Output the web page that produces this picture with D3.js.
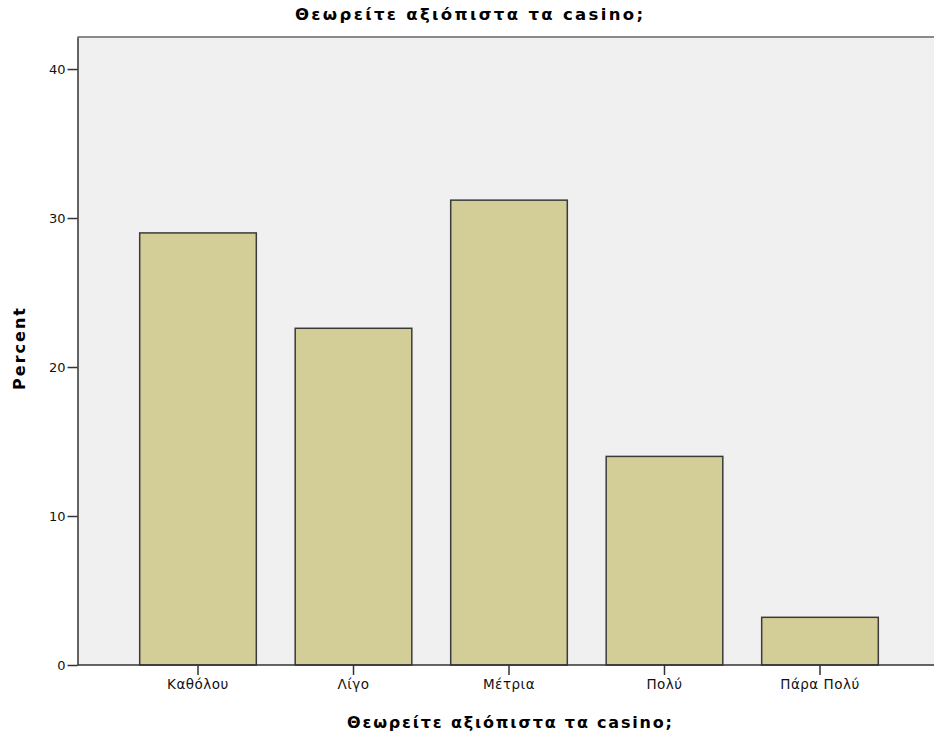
<!DOCTYPE html>
<html><head><meta charset="utf-8">
<script src="https://cdn.jsdelivr.net/npm/d3@7"></script>
<style>body{margin:0;background:#fff}svg{display:block}</style>
</head><body>
<script>
const categories = ["Καθόλου", "Λίγο", "Μέτρια", "Πολύ", "Πάρα Πολύ"];
const percents = [29.0, 22.6, 31.2, 14.0, 3.2];
const yTicks = [0, 10, 20, 30, 40];
const titleText = "Θεωρείτε αξιόπιστα τα casino;";
const xLabelText = "Θεωρείτε αξιόπιστα τα casino;";
const yLabelText = "Percent";

(function () {
const W = 934, H = 740;
const mLeft = 77.5, mTop = 37, mBottom = 665, rightEnd = 940.5;
const svg = d3.select("body").append("svg").attr("width", W).attr("height", H);
svg.append("rect").attr("width", W).attr("height", H).attr("fill", "#fff");

const x = d3.scaleBand().domain(categories).range([mLeft, rightEnd]).paddingInner(0.25).paddingOuter(0.4);
const y = d3.scaleLinear().domain([0, 42.15]).range([mBottom, mTop]);

svg.append("rect").attr("x", mLeft).attr("y", mTop).attr("width", W - mLeft).attr("height", mBottom - mTop).attr("fill", "#f0f0f0");
svg.append("line").attr("x1", mLeft).attr("x2", W).attr("y1", mTop).attr("y2", mTop).attr("stroke", "#8a8a8a").attr("stroke-width", 2);

svg.selectAll("rect.bar").data(categories).enter().append("rect").attr("class", "bar")
  .attr("x", d => x(d)).attr("width", x.bandwidth())
  .attr("y", (d, i) => y(percents[i])).attr("height", (d, i) => mBottom - y(percents[i]))
  .attr("fill", "#d3ce97").attr("stroke", "#3a3a3a").attr("stroke-width", 1.5);

const font = "'DejaVu Sans', Verdana, sans-serif";
const ya = svg.append("g").attr("transform", `translate(${mLeft},0)`)
  .call(d3.axisLeft(y).tickValues(yTicks).tickSize(10).tickSizeOuter(0).tickPadding(2).tickFormat(d3.format("d")));
const xa = svg.append("g").attr("transform", `translate(0,${mBottom})`)
  .call(d3.axisBottom(x).tickSize(10).tickSizeOuter(0).tickPadding(4));
xa.select(".domain").remove();
svg.append("line").attr("x1", mLeft).attr("x2", W).attr("y1", mBottom).attr("y2", mBottom).attr("stroke", "#333").attr("stroke-width", 1.5);
[ya, xa].forEach(g => {
  g.selectAll("path,line").attr("stroke", "#333").attr("stroke-width", 1.5);
  g.selectAll("text").attr("fill", "#111").style("font-family", font);
});
ya.selectAll("text").style("font-size", "13px");
xa.selectAll("text").style("font-size", "13.5px").style("letter-spacing", "0.5px");

svg.append("text").attr("x", 469).attr("y", 20).attr("text-anchor", "middle")
  .style("font-family", font).style("font-size", "16.5px").style("font-weight", "bold")
  .attr("textLength", 348).attr("lengthAdjust", "spacing").text(titleText);
svg.append("text").attr("x", 509.5).attr("y", 728).attr("text-anchor", "middle")
  .style("font-family", font).style("font-size", "16px").style("font-weight", "bold")
  .attr("textLength", 325).attr("lengthAdjust", "spacing").text(xLabelText);
svg.append("text").attr("transform", "translate(25,349) rotate(-90)").attr("text-anchor", "middle")
  .style("font-family", font).style("font-size", "16px").style("font-weight", "bold")
  .attr("textLength", 82).attr("lengthAdjust", "spacing").text(yLabelText);
})();
</script>
</body></html>
